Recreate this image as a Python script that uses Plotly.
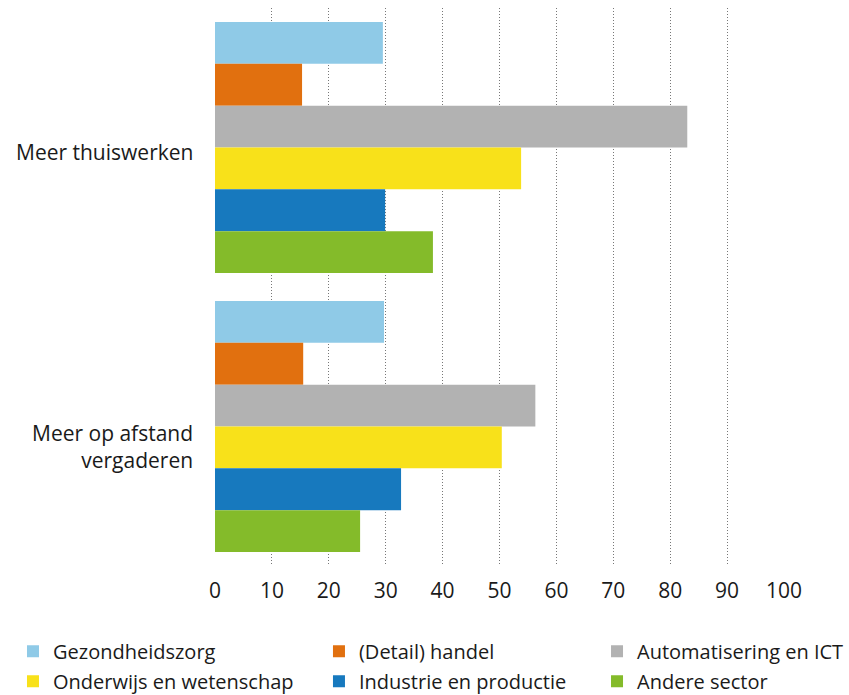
import plotly.graph_objects as go

categories = ["Meer thuiswerken", "Meer op afstand vergaderen"]
category_labels = ["Meer thuiswerken", "Meer op afstand<br>vergaderen"]
sectors = [
    "Gezondheidszorg",
    "(Detail) handel",
    "Automatisering en ICT",
    "Onderwijs en wetenschap",
    "Industrie en productie",
    "Andere sector",
]
thuiswerken = [29.5, 15.3, 83.0, 53.8, 29.9, 38.3]
vergaderen = [29.7, 15.5, 56.3, 50.4, 32.7, 25.5]
colors = ["#8FCAE7", "#E1700F", "#B2B2B2", "#F8E11A", "#1779BE", "#84BB2A"]

# legend column per sector (three columns, two rows)
legend_ids = ["legend", "legend2", "legend3", "legend", "legend2", "legend3"]

FONT = "Open Sans"
TXT = "#1a1a1a"

fig = go.Figure()
for i, name in enumerate(sectors):
    fig.add_trace(go.Bar(
        y=categories,
        x=[thuiswerken[i], vergaderen[i]],
        name=name,
        orientation="h",
        marker=dict(color=colors[i], line=dict(width=0)),
        legend=legend_ids[i],
        legendgroup=name,
    ))

# category labels as annotations (second label sits a bit lower in the original)
label_shift = [-4, -20]
for cat, lab, dy in zip(categories, category_labels, label_shift):
    fig.add_annotation(
        x=0, xref="paper", y=cat, yref="y",
        text=lab, showarrow=False,
        xanchor="right", align="right",
        xshift=-20, yshift=dy,
        font=dict(family=FONT, size=21, color=TXT),
    )

leg = dict(
    orientation="v",
    xref="container", yref="container",
    y=0.091, xanchor="left", yanchor="top",
    font=dict(family=FONT, size=20, color=TXT),
    tracegroupgap=1,
    itemwidth=30,
    bgcolor="rgba(0,0,0,0)",
)

fig.update_layout(
    width=849, height=695,
    barmode="group",
    bargap=0.1,
    bargroupgap=0,
    plot_bgcolor="white",
    paper_bgcolor="white",
    font=dict(family=FONT, size=21, color=TXT),
    margin=dict(l=215, r=65, t=8, b=129, autoexpand=False),
    showlegend=True,
    legend=dict(leg, x=0.0153),
    legend2=dict(leg, x=0.3757),
    legend3=dict(leg, x=0.7032),
)
fig.update_xaxes(
    range=[0, 100],
    tickvals=[0, 10, 20, 30, 40, 50, 60, 70, 80, 90, 100],
    showgrid=True,
    gridcolor="#777777",
    griddash="1px,2px",
    gridwidth=1,
    zeroline=False,
    showline=False,
    ticks="outside", ticklen=6, tickcolor="white",
)
fig.update_yaxes(
    autorange="reversed",
    showgrid=False,
    showline=False,
    showticklabels=False,
)

fig.write_html(
    "out.html",
    config={"displayModeBar": False},
    post_script="document.body.style.margin='0';",
)
